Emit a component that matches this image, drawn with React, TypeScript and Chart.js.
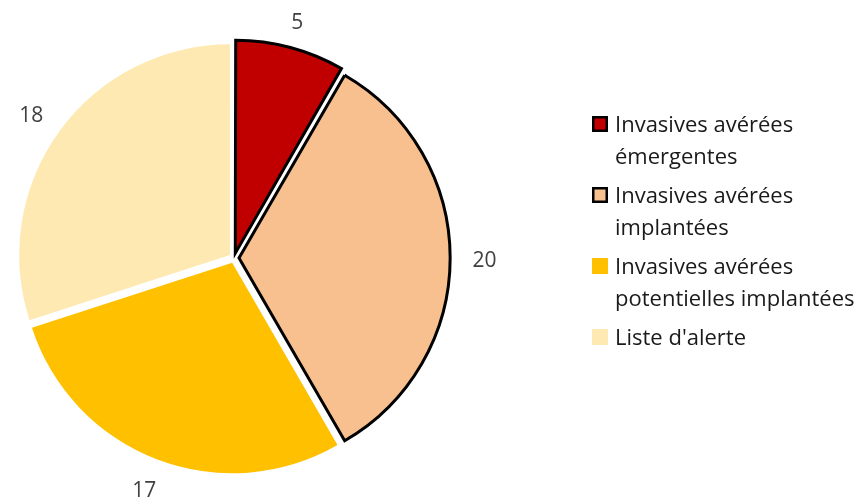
import React, { useEffect, useRef } from "react";
import { Chart, registerables } from "chart.js";

Chart.register(...registerables);

const categories: string[][] = [
  ["Invasives avérées", "émergentes"],
  ["Invasives avérées", "implantées"],
  ["Invasives avérées", "potentielles implantées"],
  ["Liste d'alerte"],
];
const values: number[] = [5, 20, 17, 18];
const colors: string[] = ["#C00000", "#F8BF8F", "#FFC000", "#FFE9B3"];
const borderColors: string[] = ["#000000", "#000000", "#FFFFFF", "#FFFFFF"];
const borderWidths: number[] = [3, 3, 0, 0];

const FONT = "'Open Sans', 'DejaVu Sans', sans-serif";

const labelsPlugin = {
  id: "outsideLabels",
  afterDatasetsDraw(chart: any) {
    const ctx = chart.ctx;
    const meta = chart.getDatasetMeta(0);
    ctx.save();
    ctx.font = `21px ${FONT}`;
    ctx.fillStyle = "#404040";
    ctx.textAlign = "center";
    ctx.textBaseline = "middle";
    meta.data.forEach((arc: any, i: number) => {
      const mid = (arc.startAngle + arc.endAngle) / 2;
      const text = String(values[i]);
      const w = ctx.measureText(text).width;
      const h = 16;
      const d = arc.outerRadius + 28;
      const cx = Math.cos(mid);
      const cy = Math.sin(mid);
      const x = arc.x + cx * d + (cx * w) / 2;
      const y = arc.y + cy * d + (cy * h) / 2 + 3;
      ctx.fillText(text, x, y);
    });
    ctx.restore();
  },
};

const legendPlugin = {
  id: "customLegend",
  afterDraw(chart: any) {
    const ctx = chart.ctx;
    ctx.save();
    ctx.font = `22px ${FONT}`;
    ctx.textAlign = "left";
    ctx.textBaseline = "alphabetic";
    const boxX = 592;
    const boxSize = 16;
    const textX = 615;
    const firstBaseline = 132;
    const itemStep = 71;
    const lineStep = 32;
    categories.forEach((lines, i) => {
      const base = firstBaseline + i * itemStep;
      const boxY = base - 16;
      ctx.fillStyle = colors[i];
      ctx.fillRect(boxX, boxY, boxSize, boxSize);
      if (borderWidths[i] > 0) {
        ctx.strokeStyle = borderColors[i];
        ctx.lineWidth = 2.5;
        ctx.strokeRect(boxX + 1.25, boxY + 1.25, boxSize - 2.5, boxSize - 2.5);
      }
      ctx.fillStyle = "#1a1a1a";
      lines.forEach((line, j) => {
        ctx.fillText(line, textX, base + j * lineStep);
      });
    });
    ctx.restore();
  },
};

export default function App() {
  const ref = useRef<HTMLCanvasElement | null>(null);
  useEffect(() => {
    if (!ref.current) return;
    const chart = new Chart(ref.current, {
      type: "pie",
      data: {
        labels: categories.map((c) => c.join(" ")),
        datasets: [
          {
            data: values,
            backgroundColor: colors,
            borderColor: borderColors,
            borderWidth: borderWidths,
            hoverBorderWidth: borderWidths,
            offset: 20,
            hoverOffset: 20,
            borderJoinStyle: "miter",
          } as any,
        ],
      },
      options: {
        responsive: false,
        animation: false,
        events: [],
        layout: { padding: { left: 12, top: 36, right: 407, bottom: 18 } },
        plugins: {
          legend: { display: false },
          tooltip: { enabled: false },
        },
      },
      plugins: [labelsPlugin, legendPlugin],
    });
    return () => chart.destroy();
  }, []);
  return (
    <div style={{ position: "absolute", left: 0, top: 0, width: 863, height: 498, background: "#fff" }}>
      <canvas ref={ref} width={863} height={498} style={{ display: "block" }} />
    </div>
  );
}
